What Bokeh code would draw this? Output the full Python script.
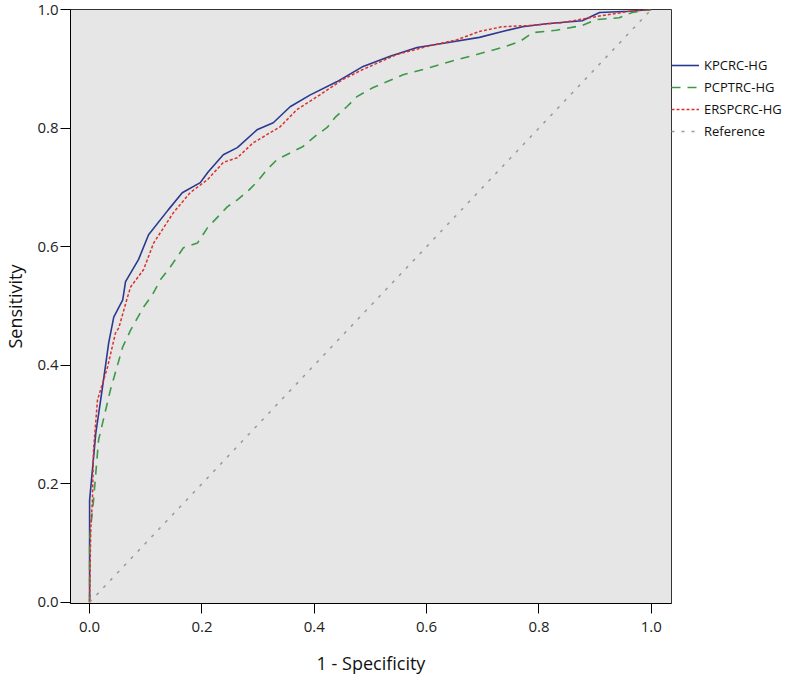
from bokeh.plotting import figure
from bokeh.models import Legend, LegendItem, FixedTicker, Range1d
from bokeh.embed import file_html
from bokeh.resources import INLINE

# ---- data ----
kp_x = [0.0, 0.0, 0.011, 0.023, 0.034, 0.043, 0.059, 0.064, 0.087, 0.105, 0.140, 0.165, 0.197,
        0.211, 0.238, 0.263, 0.298, 0.327, 0.357, 0.393, 0.440, 0.487, 0.535, 0.583, 0.636,
        0.694, 0.735, 0.771, 0.813, 0.877, 0.908, 0.961, 1.0]
kp_y = [0.0, 0.172, 0.285, 0.363, 0.4375, 0.481, 0.510, 0.541, 0.578, 0.620, 0.662, 0.691, 0.708,
        0.726, 0.755, 0.767, 0.797, 0.809, 0.836, 0.856, 0.878, 0.904, 0.921, 0.936, 0.944,
        0.953, 0.963, 0.971, 0.976, 0.981, 0.995, 0.997, 1.0]

pc_x = [0.0, 0.0, 0.002, 0.007, 0.016, 0.037, 0.059, 0.073, 0.096, 0.112, 0.126, 0.144, 0.167,
        0.192, 0.210, 0.227, 0.245, 0.263, 0.281, 0.298, 0.316, 0.334, 0.357, 0.380, 0.405,
        0.423, 0.437, 0.458, 0.476, 0.504, 0.529, 0.558, 0.606, 0.641, 0.689, 0.735, 0.766,
        0.789, 0.831, 0.877, 0.902, 0.943, 0.966, 1.0]
pc_y = [0.0, 0.105, 0.127, 0.172, 0.274, 0.358, 0.431, 0.459, 0.498, 0.519, 0.544, 0.566, 0.598,
        0.606, 0.632, 0.649, 0.667, 0.679, 0.693, 0.709, 0.730, 0.747, 0.758, 0.769, 0.789,
        0.801, 0.818, 0.836, 0.853, 0.868, 0.878, 0.890, 0.902, 0.912, 0.924, 0.936, 0.946,
        0.961, 0.965, 0.973, 0.983, 0.986, 0.995, 1.0]

er_x = [0.0, 0.002, 0.005, 0.007, 0.014, 0.032, 0.046, 0.052, 0.066, 0.073, 0.096, 0.114, 0.149,
        0.179, 0.210, 0.238, 0.263, 0.291, 0.339, 0.369, 0.410, 0.451, 0.487, 0.547, 0.600,
        0.654, 0.694, 0.735, 0.783, 0.842, 0.902, 0.961, 1.0]
er_y = [0.0, 0.122, 0.172, 0.257, 0.341, 0.397, 0.454, 0.463, 0.510, 0.532, 0.561, 0.606, 0.657,
        0.691, 0.713, 0.742, 0.750, 0.775, 0.802, 0.831, 0.856, 0.882, 0.899, 0.924, 0.9375,
        0.949, 0.963, 0.971, 0.973, 0.978, 0.988, 0.997, 1.0]

ref_x = [0.0, 1.0]
ref_y = [0.0, 1.0]

series_names = ["KPCRC-HG", "PCPTRC-HG", "ERSPCRC-HG", "Reference"]
tick_values = [0.0, 0.2, 0.4, 0.6, 0.8, 1.0]

FONT = "Open Sans"

p = figure(frame_width=601, frame_height=594, output_backend="svg", toolbar_location=None,
           x_range=Range1d(-0.034, 1.036), y_range=Range1d(-0.002, 1.0),
           min_border_left=64, min_border_right=118, min_border_top=9, min_border_bottom=66)

p.background_fill_color = "#e6e6e6"
p.border_fill_color = "white"
p.outline_line_color = "#333333"
p.outline_line_width = 1
p.grid.visible = False

r_kp = p.line(kp_x, kp_y, line_color="#2b3990", line_width=1.6)
r_pc = p.line(pc_x, pc_y, line_color="#3a9a45", line_width=1.6, line_dash="9 7")
r_er = p.line(er_x, er_y, line_color="#d9312b", line_width=1.5, line_dash="3 2")
r_ref = p.line(ref_x, ref_y, line_color="#999999", line_width=1.5, line_dash="3 7")

for ax in (p.xaxis[0], p.yaxis[0]):
    ax.ticker = FixedTicker(ticks=tick_values)
    ax.major_label_overrides = {v: f"{v:.1f}" for v in tick_values}
    ax.minor_tick_line_color = None
    ax.major_tick_in = 0
    ax.major_tick_out = 10
    ax.major_tick_line_color = "black"
    ax.axis_line_color = "black"
    ax.major_label_text_font = FONT
    ax.major_label_text_font_size = "15px"
    ax.major_label_text_color = "#222222"
    ax.axis_label_text_font = FONT
    ax.axis_label_text_font_size = "18px"
    ax.axis_label_text_font_style = "normal"
    ax.axis_label_text_color = "#111111"

p.xaxis[0].axis_label = "1 - Specificity"
p.yaxis[0].axis_label = "Sensitivity"
p.xaxis[0].major_label_standoff = 8
p.xaxis[0].axis_label_standoff = 16
p.yaxis[0].major_label_standoff = 2
p.yaxis[0].axis_label_standoff = 7

legend = Legend(items=[
    LegendItem(label=series_names[0], renderers=[r_kp]),
    LegendItem(label=series_names[1], renderers=[r_pc]),
    LegendItem(label=series_names[2], renderers=[r_er]),
    LegendItem(label=series_names[3], renderers=[r_ref]),
], location=(0, 462))
legend.border_line_color = None
legend.background_fill_alpha = 0
legend.margin = 0
legend.padding = 4
legend.spacing = 2
legend.glyph_width = 28
legend.glyph_height = 20
legend.label_standoff = 5
legend.label_text_font = FONT
legend.label_text_font_size = "13px"
legend.label_text_color = "#111111"
p.add_layout(legend, "right")

open("out.html", "w").write(file_html(p, INLINE))
